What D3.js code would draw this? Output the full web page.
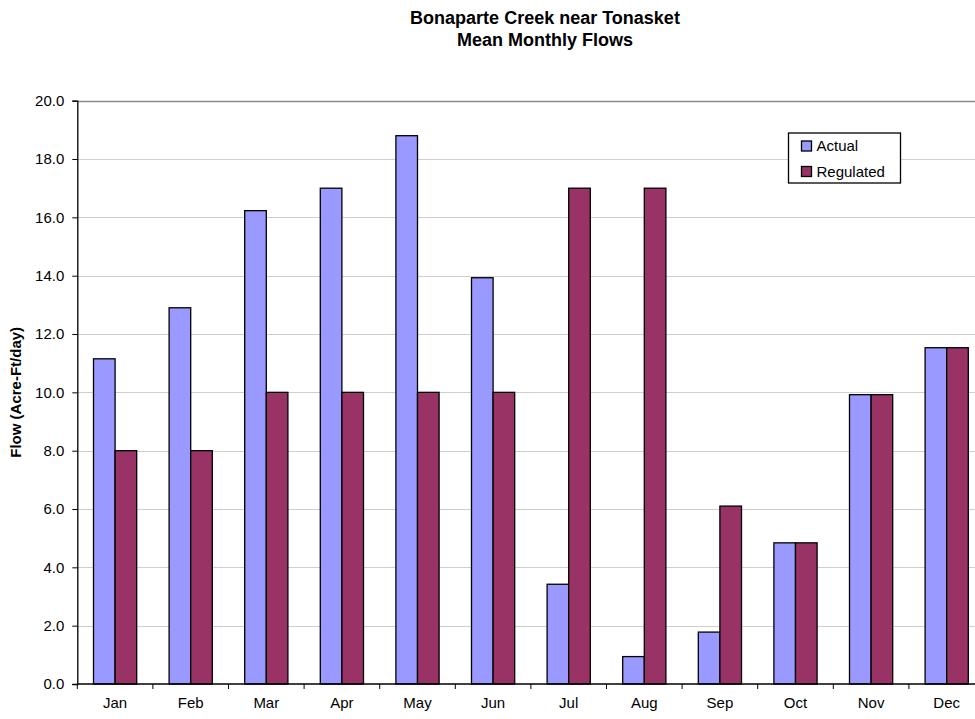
<!DOCTYPE html>
<html>
<head>
<meta charset="utf-8">
<script src="https://cdn.jsdelivr.net/npm/d3@7"></script>
<style>
  html, body { margin: 0; padding: 0; background: #fff; }
  svg { display: block; font-family: "Liberation Sans", Arial, sans-serif; }
</style>
</head>
<body>
<svg id="chart" width="975" height="719"></svg>
<script>
// Mean monthly flows, Bonaparte Creek near Tonasket (Acre-Ft/day)
const months = ["Jan", "Feb", "Mar", "Apr", "May", "Jun", "Jul", "Aug", "Sep", "Oct", "Nov", "Dec"];
const actual = [11.15, 12.9, 16.23, 17.0, 18.8, 13.93, 3.42, 0.94, 1.78, 4.84, 9.92, 11.53];
const regulated = [8.0, 8.0, 10.0, 10.0, 10.0, 10.0, 17.0, 17.0, 6.1, 4.84, 9.92, 11.53];
const seriesNames = ["Actual", "Regulated"];
const seriesColors = ["#9999FF", "#993366"];
const yTicks = [0, 2, 4, 6, 8, 10, 12, 14, 16, 18, 20];

const svg = d3.select("#chart");
const plot = { left: 77.3, top: 100.7, bottom: 684, step: 75.6 };

const x = d3.scaleBand()
  .domain(months)
  .range([plot.left, plot.left + months.length * plot.step])
  .padding(0);

const xs = d3.scaleBand()
  .domain(seriesNames)
  .range([0, x.bandwidth()])
  .paddingInner(0)
  .paddingOuter(0.75);

const y = d3.scaleLinear().domain([0, 20]).range([plot.bottom, plot.top]);

// horizontal gridlines
svg.append("g")
  .selectAll("line")
  .data(yTicks.filter(d => d > 0))
  .join("line")
  .attr("x1", plot.left)
  .attr("x2", 975)
  .attr("y1", d => Math.round(y(d)) + 0.5)
  .attr("y2", d => Math.round(y(d)) + 0.5)
  .attr("stroke", d => d === 20 ? "#8c8c8c" : "#cfcfcf")
  .attr("stroke-width", d => d === 20 ? 1.6 : 1);

// bars
const table = months.map((m, i) => ({ month: m, values: [actual[i], regulated[i]] }));
const groups = svg.append("g")
  .selectAll("g")
  .data(table)
  .join("g")
  .attr("transform", d => `translate(${x(d.month)},0)`);

groups.selectAll("rect")
  .data(d => d.values.map((v, k) => ({ key: seriesNames[k], value: v, color: seriesColors[k] })))
  .join("rect")
  .attr("x", d => xs(d.key))
  .attr("width", xs.bandwidth())
  .attr("y", d => y(d.value))
  .attr("height", d => y(0) - y(d.value))
  .attr("fill", d => d.color)
  .attr("stroke", "#000")
  .attr("stroke-width", 1.3);

// y axis
const yAxis = svg.append("g")
  .attr("transform", `translate(${plot.left},0)`)
  .call(d3.axisLeft(y).tickValues(yTicks).tickSize(5).tickPadding(8).tickFormat(d3.format(".1f")));
yAxis.select(".domain").attr("stroke", "#000").attr("stroke-width", 1.3);
yAxis.selectAll(".tick line").attr("stroke", "#000");
yAxis.selectAll("text").attr("font-size", 15).attr("fill", "#000")
  .attr("font-family", "Liberation Sans, Arial, sans-serif");

// x axis with ticks between categories
const xAxisG = svg.append("g").attr("transform", `translate(0,${plot.bottom})`);
xAxisG.append("line")
  .attr("x1", plot.left).attr("x2", 975)
  .attr("y1", 0).attr("y2", 0)
  .attr("stroke", "#000").attr("stroke-width", 1.3);
xAxisG.selectAll("line.tick")
  .data(months)
  .join("line")
  .attr("class", "tick")
  .attr("x1", d => x(d)).attr("x2", d => x(d))
  .attr("y1", 0).attr("y2", 5)
  .attr("stroke", "#000");
xAxisG.selectAll("text")
  .data(months)
  .join("text")
  .attr("x", d => x(d) + x.bandwidth() / 2)
  .attr("y", 24)
  .attr("text-anchor", "middle")
  .attr("font-size", 15)
  .attr("fill", "#000")
  .text(d => d);

// y axis title
svg.append("text")
  .attr("transform", `translate(21,${(plot.top + plot.bottom) / 2}) rotate(-90)`)
  .attr("text-anchor", "middle")
  .attr("font-size", 15)
  .attr("font-weight", "bold")
  .text("Flow (Acre-Ft/day)");

// chart title
const title = svg.append("text")
  .attr("x", 545)
  .attr("text-anchor", "middle")
  .attr("font-size", 18)
  .attr("font-weight", "bold");
title.append("tspan").attr("x", 545).attr("y", 24).text("Bonaparte Creek near Tonasket");
title.append("tspan").attr("x", 545).attr("y", 46).text("Mean Monthly Flows");

// legend
const legend = svg.append("g").attr("transform", "translate(788.5,133)");
legend.append("rect")
  .attr("width", 112).attr("height", 50)
  .attr("fill", "#fff").attr("stroke", "#000").attr("stroke-width", 1.3);
const items = legend.selectAll("g.item")
  .data(seriesNames)
  .join("g")
  .attr("class", "item")
  .attr("transform", (d, i) => `translate(13,${8 + i * 25.5})`);
items.append("rect")
  .attr("width", 10).attr("height", 10)
  .attr("fill", (d, i) => seriesColors[i])
  .attr("stroke", "#000").attr("stroke-width", 1.3);
items.append("text")
  .attr("x", 15).attr("y", 5)
  .attr("dy", "0.35em")
  .attr("font-size", 15)
  .text(d => d);
</script>
</body>
</html>
